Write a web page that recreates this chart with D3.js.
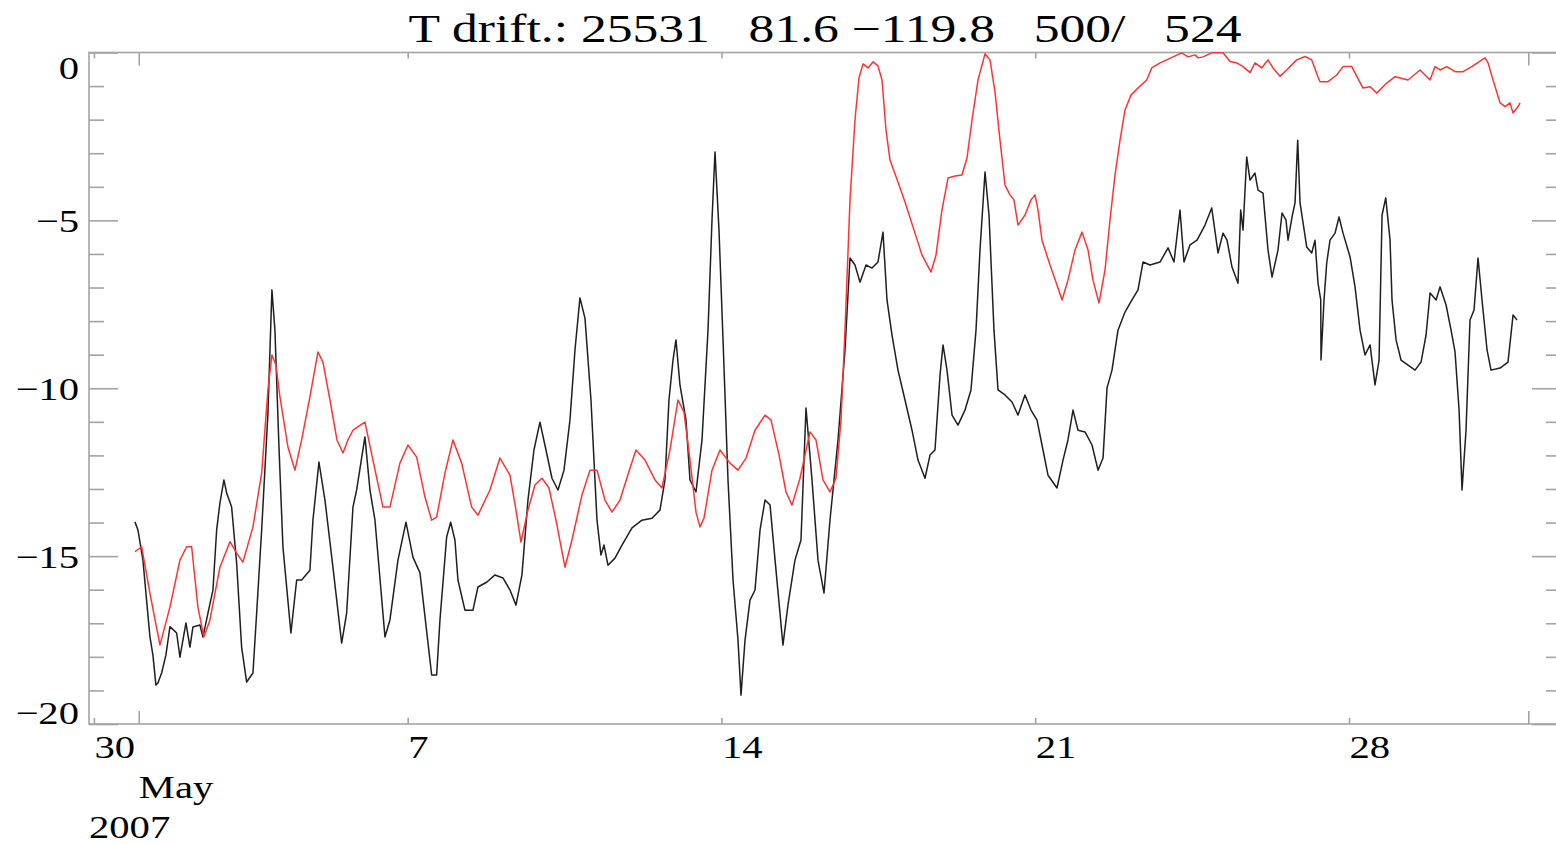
<!DOCTYPE html>
<html>
<head>
<meta charset="utf-8">
<script src="https://cdn.jsdelivr.net/npm/d3@7"></script>
<style>
body { margin: 0; background: #fff; }
svg text { font-family: "Liberation Serif", "Times New Roman", serif; fill: #000; }
</style>
</head>
<body>
<div id="chart"></div>
<script>
// Titel und Achsen
const titleText = "T drift.: 25531   81.6 \u2212119.8   500/   524";
const yMajorTicks = [0, -5, -10, -15, -20];
const yMinorTicks = [-1, -2, -3, -4, -6, -7, -8, -9, -11, -12, -13, -14, -16, -17, -18, -19];
const weekTicks = ["2007-04-30", "2007-05-07", "2007-05-14", "2007-05-21", "2007-05-28"];
const monthTicks = ["2007-05-01", "2007-06-01"];
const monthLabel = "May";
const yearLabel = "2007";

// Tage seit 30. April 2007 00:00 UTC, Wert
const blackSeries = [
  [0.915,-13.98],[0.982,-14.22],[1.093,-15.12],[1.249,-17.40],[1.316,-17.95],[1.383,-18.84],[1.428,-18.78],
  [1.510,-18.48],[1.606,-17.95],[1.696,-17.10],[1.845,-17.29],[1.919,-18.01],[2.053,-16.99],[2.142,-17.71],
  [2.209,-17.11],[2.365,-17.05],[2.432,-17.41],[2.544,-16.70],[2.655,-16.01],[2.738,-14.22],[2.811,-13.42],
  [2.900,-12.73],[2.961,-13.12],[3.072,-13.54],[3.184,-15.21],[3.295,-17.71],[3.407,-18.75],[3.548,-18.48],
  [3.630,-16.70],[3.742,-14.22],[3.882,-10.74],[3.971,-7.07],[4.038,-8.27],[4.128,-11.75],[4.217,-14.73],
  [4.395,-17.29],[4.523,-15.71],[4.634,-15.71],[4.819,-15.42],[4.886,-13.93],[5.020,-12.20],[5.154,-13.33],
  [5.332,-15.33],[5.527,-17.59],[5.638,-16.70],[5.779,-13.54],[5.861,-13.03],[6.046,-11.45],[6.158,-13.03],
  [6.270,-13.93],[6.493,-17.41],[6.604,-16.90],[6.783,-15.12],[6.961,-13.99],[7.117,-15.03],[7.274,-15.50],
  [7.535,-18.54],[7.646,-18.54],[7.720,-16.90],[7.869,-14.43],[7.959,-13.99],[8.054,-14.52],[8.121,-15.71],
  [8.277,-16.61],[8.456,-16.61],[8.568,-15.92],[8.768,-15.77],[8.947,-15.56],[9.125,-15.65],[9.282,-16.01],
  [9.416,-16.46],[9.549,-15.56],[9.683,-13.33],[9.817,-11.84],[9.951,-11.01],[10.085,-11.84],[10.219,-12.68],
  [10.353,-13.03],[10.487,-12.44],[10.620,-10.95],[10.732,-8.86],[10.843,-7.31],[10.955,-7.91],[11.089,-10.35],
  [11.223,-13.93],[11.312,-14.97],[11.379,-14.67],[11.468,-15.27],[11.624,-15.06],[11.781,-14.67],[12.004,-14.16],
  [12.227,-13.93],[12.450,-13.87],[12.628,-13.63],[12.740,-12.73],[12.829,-10.35],[12.919,-9.16],[12.985,-8.56],
  [13.075,-9.91],[13.209,-10.95],[13.298,-12.73],[13.432,-13.09],[13.566,-11.54],[13.700,-8.27],[13.789,-4.99],
  [13.856,-2.96],[13.945,-5.29],[14.035,-8.56],[14.146,-12.73],[14.258,-15.71],[14.369,-17.50],[14.436,-19.14],
  [14.526,-17.50],[14.637,-16.31],[14.749,-16.01],[14.861,-14.22],[14.972,-13.33],[15.084,-13.48],[15.196,-15.12],
  [15.372,-17.65],[15.484,-16.46],[15.640,-15.12],[15.774,-14.52],[15.886,-10.59],[16.020,-12.73],[16.154,-15.12],
  [16.288,-16.10],[16.421,-13.93],[16.600,-11.54],[16.756,-8.86],[16.868,-6.12],[16.979,-6.33],[17.091,-6.84],
  [17.225,-6.33],[17.359,-6.42],[17.492,-6.24],[17.604,-5.35],[17.693,-7.37],[17.805,-8.42],[17.938,-9.46],
  [18.095,-10.35],[18.251,-11.25],[18.385,-12.14],[18.541,-12.68],[18.653,-11.99],[18.764,-11.84],[18.876,-9.61],
  [18.943,-8.71],[19.032,-9.46],[19.144,-10.80],[19.277,-11.10],[19.433,-10.65],[19.567,-10.05],[19.679,-8.27],
  [19.768,-5.88],[19.880,-3.56],[19.969,-4.84],[20.080,-8.27],[20.170,-10.05],[20.326,-10.20],[20.482,-10.41],
  [20.616,-10.80],[20.772,-10.20],[20.906,-10.65],[21.040,-10.95],[21.151,-11.69],[21.285,-12.59],[21.486,-12.97],
  [21.620,-12.14],[21.731,-11.54],[21.843,-10.65],[21.955,-11.25],[22.111,-11.30],[22.267,-11.69],[22.401,-12.44],
  [22.513,-12.08],[22.602,-9.99],[22.713,-9.46],[22.847,-8.27],[23.003,-7.73],[23.159,-7.37],[23.293,-7.07],
  [23.405,-6.24],[23.561,-6.33],[23.784,-6.24],[23.963,-5.82],[24.096,-6.24],[24.230,-4.69],[24.319,-6.24],
  [24.453,-5.73],[24.610,-5.59],[24.788,-5.14],[24.937,-4.63],[25.078,-5.97],[25.190,-5.38],[25.279,-5.59],
  [25.390,-6.39],[25.524,-6.87],[25.584,-4.69],[25.636,-5.29],[25.718,-3.11],[25.792,-3.80],[25.903,-3.59],
  [25.970,-4.10],[26.082,-4.19],[26.193,-5.88],[26.283,-6.69],[26.417,-5.88],[26.506,-4.78],[26.595,-4.99],
  [26.640,-5.59],[26.729,-4.90],[26.796,-4.48],[26.856,-2.61],[26.908,-4.48],[27.057,-5.79],[27.169,-5.97],
  [27.242,-5.59],[27.309,-6.87],[27.370,-7.37],[27.376,-9.16],[27.443,-7.37],[27.503,-6.27],[27.577,-5.59],
  [27.689,-5.38],[27.778,-4.90],[27.867,-5.38],[28.024,-6.09],[28.135,-6.98],[28.247,-8.27],[28.358,-9.01],
  [28.470,-8.71],[28.581,-9.90],[28.671,-9.16],[28.738,-4.84],[28.820,-4.33],[28.916,-5.59],[28.960,-7.37],
  [29.050,-8.56],[29.161,-9.16],[29.318,-9.31],[29.474,-9.46],[29.608,-9.22],[29.719,-8.42],[29.809,-7.16],
  [29.943,-7.37],[30.031,-6.98],[30.166,-7.52],[30.277,-8.27],[30.366,-8.92],[30.456,-10.65],[30.522,-13.03],
  [30.611,-11.25],[30.700,-7.97],[30.790,-7.67],[30.879,-6.12],[30.968,-7.37],[31.080,-8.86],[31.169,-9.46],
  [31.370,-9.40],[31.548,-9.22],[31.660,-7.82],[31.749,-7.97]
];

const redSeries = [
  [0.915,-14.87],[1.064,-14.72],[1.249,-16.10],[1.473,-17.65],[1.696,-16.52],[1.919,-15.12],[2.068,-14.72],
  [2.180,-14.72],[2.320,-16.52],[2.454,-17.41],[2.588,-16.90],[2.811,-15.33],[3.034,-14.57],[3.184,-14.91],
  [3.324,-15.18],[3.548,-14.13],[3.742,-12.53],[3.882,-10.05],[3.971,-9.01],[4.061,-9.31],[4.150,-10.26],
  [4.328,-11.75],[4.485,-12.44],[4.634,-11.54],[4.819,-10.26],[4.998,-8.92],[5.109,-9.22],[5.266,-10.35],
  [5.422,-11.54],[5.556,-11.93],[5.667,-11.54],[5.779,-11.25],[6.046,-11.01],[6.225,-12.14],[6.448,-13.54],
  [6.604,-13.54],[6.827,-12.23],[7.006,-11.69],[7.200,-12.05],[7.385,-13.24],[7.535,-13.93],[7.646,-13.84],
  [7.831,-12.53],[8.010,-11.54],[8.204,-12.23],[8.427,-13.54],[8.568,-13.78],[8.835,-13.03],[9.058,-12.08],
  [9.282,-12.59],[9.416,-13.63],[9.527,-14.58],[9.683,-13.63],[9.839,-12.88],[9.996,-12.68],[10.152,-12.97],
  [10.308,-13.93],[10.509,-15.33],[10.665,-14.52],[10.888,-13.18],[11.067,-12.44],[11.223,-12.44],[11.401,-13.33],
  [11.557,-13.69],[11.736,-13.33],[11.959,-12.38],[12.093,-11.84],[12.294,-12.14],[12.517,-12.73],[12.673,-12.97],
  [12.851,-11.84],[13.030,-10.35],[13.164,-10.71],[13.298,-12.14],[13.432,-13.69],[13.521,-14.13],[13.611,-13.87],
  [13.789,-12.44],[13.967,-11.84],[14.191,-12.23],[14.369,-12.44],[14.548,-12.08],[14.749,-11.25],[14.972,-10.80],
  [15.106,-10.95],[15.285,-11.99],[15.440,-13.09],[15.574,-13.48],[15.752,-12.68],[15.975,-11.30],[16.109,-11.54],
  [16.265,-12.73],[16.421,-13.09],[16.555,-12.68],[16.667,-10.95],[16.756,-8.27],[16.868,-4.39],[16.979,-2.01],
  [17.068,-0.76],[17.158,-0.34],[17.269,-0.46],[17.381,-0.28],[17.492,-0.40],[17.582,-0.82],[17.671,-2.31],
  [17.760,-3.20],[17.938,-3.86],[18.117,-4.54],[18.296,-5.29],[18.474,-6.03],[18.675,-6.54],[18.787,-6.03],
  [18.920,-4.69],[19.054,-3.74],[19.210,-3.68],[19.366,-3.65],[19.478,-3.14],[19.590,-2.01],[19.723,-0.82],
  [19.880,-0.04],[19.991,-0.22],[20.103,-1.18],[20.214,-2.61],[20.326,-3.95],[20.437,-4.24],[20.526,-4.39],
  [20.616,-5.14],[20.772,-4.84],[20.906,-4.39],[20.995,-4.24],[21.062,-4.69],[21.151,-5.59],[21.330,-6.33],
  [21.464,-6.84],[21.598,-7.37],[21.731,-6.78],[21.888,-5.88],[22.044,-5.35],[22.178,-5.88],[22.289,-6.78],
  [22.423,-7.46],[22.557,-6.48],[22.668,-4.99],[22.780,-3.65],[22.892,-2.61],[23.003,-1.71],[23.137,-1.27],
  [23.338,-1.00],[23.487,-0.82],[23.599,-0.46],[23.784,-0.31],[23.933,-0.22],[24.074,-0.13],[24.268,-0.01],
  [24.409,-0.13],[24.565,-0.07],[24.632,-0.16],[24.743,-0.13],[24.937,-0.01],[25.190,-0.01],[25.346,-0.27],
  [25.496,-0.31],[25.636,-0.42],[25.792,-0.60],[25.903,-0.31],[26.053,-0.46],[26.193,-0.22],[26.305,-0.46],
  [26.461,-0.71],[26.611,-0.52],[26.834,-0.22],[27.019,-0.12],[27.169,-0.22],[27.309,-0.73],[27.354,-0.87],
  [27.533,-0.87],[27.726,-0.67],[27.867,-0.42],[28.061,-0.42],[28.313,-1.06],[28.470,-1.02],[28.619,-1.21],
  [28.842,-0.91],[29.027,-0.72],[29.317,-0.82],[29.585,-0.52],[29.808,-0.82],[29.920,-0.42],[30.031,-0.52],
  [30.181,-0.42],[30.366,-0.57],[30.545,-0.57],[30.739,-0.42],[31.035,-0.16],[31.102,-0.31],[31.214,-0.82],
  [31.370,-1.50],[31.482,-1.61],[31.593,-1.50],[31.660,-1.80],[31.772,-1.61],[31.816,-1.50]
];

const width = 1556;
const height = 844;
const plotLeft = 89, plotRight = 1561, plotTop = 52.5, plotBottom = 724;
const stretch = 1.27;        // Schrift im Bild ist horizontal gedehnt
const titleStretch = 1.29;

const t0 = Date.UTC(2007, 3, 30);
const toDate = d => new Date(t0 + d * 864e5);
const parse = d3.utcParse("%Y-%m-%d");

const svg = d3.select("#chart")
    .append("svg")
    .attr("width", width)
    .attr("height", height);

const x = d3.scaleUtc()
    .domain([toDate(-0.11), toDate(32.73)])
    .range([plotLeft, plotRight]);

const y = d3.scaleLinear()
    .domain([-20, 0])
    .range([plotBottom, plotTop]);

const axisColor = "#a3a3a3";

// Rahmen
svg.append("rect")
    .attr("x", plotLeft).attr("y", plotTop)
    .attr("width", plotRight - plotLeft).attr("height", plotBottom - plotTop)
    .attr("fill", "none")
    .attr("stroke", axisColor)
    .attr("stroke-width", 1.6);

function styleAxis(g) {
    g.select(".domain").remove();
    g.selectAll(".tick line").attr("stroke", axisColor).attr("stroke-width", 1.6);
}

// y-Achsen links / rechts
svg.append("g").attr("transform", `translate(${plotLeft},0)`)
    .call(d3.axisLeft(y).tickValues(yMinorTicks).tickSize(-15).tickFormat(""))
    .call(styleAxis);

const yAxis = svg.append("g").attr("transform", `translate(${plotLeft},0)`)
    .call(d3.axisLeft(y).tickValues(yMajorTicks).tickSize(-29))
    .call(styleAxis);

yAxis.selectAll(".tick text")
    .attr("font-size", 32)
    .attr("text-anchor", "end")
    .attr("x", -10 / stretch)
    .attr("dy", null)
    .attr("y", d => d === 0 ? 25.5 : (d === -20 ? -1 : 11))
    .attr("transform", `scale(${stretch},1)`);

svg.append("g").attr("transform", `translate(${plotRight},0)`)
    .call(d3.axisRight(y).tickValues(yMinorTicks).tickSize(-15).tickFormat(""))
    .call(styleAxis);
svg.append("g").attr("transform", `translate(${plotRight},0)`)
    .call(d3.axisRight(y).tickValues(yMajorTicks).tickSize(-29).tickFormat(""))
    .call(styleAxis);

// x-Achsen unten / oben
const weekDates = weekTicks.map(parse);
const monthDates = monthTicks.map(parse);

const xAxis = svg.append("g").attr("transform", `translate(0,${plotBottom})`)
    .call(d3.axisBottom(x).tickValues(weekDates).tickSize(-6).tickFormat(d3.utcFormat("%-d")))
    .call(styleAxis);

xAxis.selectAll(".tick text")
    .attr("font-size", 32)
    .attr("text-anchor", "start")
    .attr("x", 0)
    .attr("dy", null)
    .attr("y", 34)
    .attr("transform", `scale(${stretch},1)`);

svg.append("g").attr("transform", `translate(0,${plotBottom})`)
    .call(d3.axisBottom(x).tickValues(monthDates).tickSize(-13).tickFormat(""))
    .call(styleAxis);
svg.append("g").attr("transform", `translate(0,${plotTop})`)
    .call(d3.axisTop(x).tickValues(weekDates).tickSize(-6).tickFormat(""))
    .call(styleAxis);
svg.append("g").attr("transform", `translate(0,${plotTop})`)
    .call(d3.axisTop(x).tickValues(monthDates).tickSize(-13).tickFormat(""))
    .call(styleAxis);

// Monat / Jahr
svg.append("text")
    .attr("font-size", 32)
    .attr("transform", `translate(${x(monthDates[0])},798) scale(${stretch},1)`)
    .text(monthLabel);

svg.append("text")
    .attr("font-size", 32)
    .attr("transform", `translate(${plotLeft},838) scale(${stretch},1)`)
    .text(yearLabel);

// Titel
svg.append("text")
    .attr("font-size", 40)
    .attr("text-anchor", "middle")
    .style("white-space", "pre")
    .attr("transform", `translate(${(plotLeft + plotRight) / 2},42) scale(${titleStretch},1)`)
    .text(titleText);

// Linien
const line = d3.line()
    .x(d => x(toDate(d[0])))
    .y(d => y(d[1]));

svg.append("path")
    .datum(blackSeries)
    .attr("fill", "none")
    .attr("stroke", "#1f1f1f")
    .attr("stroke-width", 1.5)
    .attr("stroke-linejoin", "round")
    .attr("d", line);

svg.append("path")
    .datum(redSeries)
    .attr("fill", "none")
    .attr("stroke", "#ff3333")
    .attr("stroke-width", 1.5)
    .attr("stroke-linejoin", "round")
    .attr("d", line);
</script>
</body>
</html>
